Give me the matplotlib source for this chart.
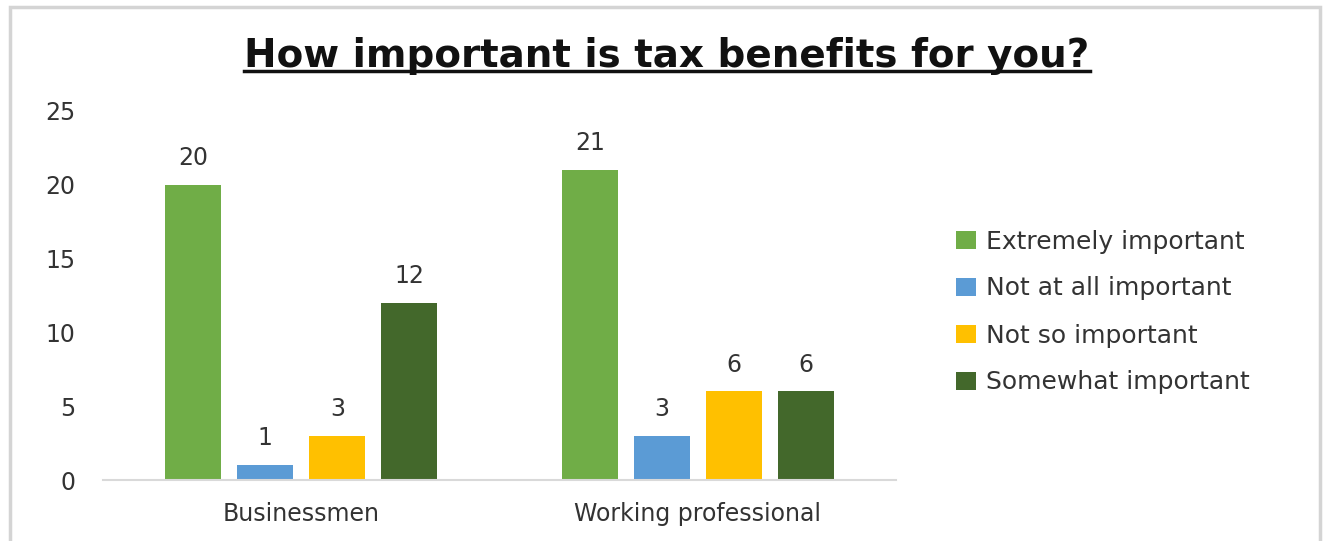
import numpy as np
import matplotlib
matplotlib.use("Agg")
import matplotlib.pyplot as plt
from matplotlib.patches import Rectangle
from matplotlib.lines import Line2D

plt.rcParams['font.family'] = ['DejaVu Sans']

# --- Survey data ---
groups = ["Businessmen", "Working professional"]
answers = ["Extremely important", "Not at all important", "Not so important", "Somewhat important"]
extremely = [20, 21]
not_at_all = [1, 3]
not_so = [3, 6]
somewhat = [12, 6]
series = [extremely, not_at_all, not_so, somewhat]
colors = ["#70ad47", "#5b9bd5", "#ffc000", "#43682b"]

W, H = 1325, 541
fig = plt.figure(figsize=(W / 100, H / 100), dpi=100)

# outer chart border
fig.patches.append(Rectangle((10 / W, -0.1), 1310 / W, 1.1 - 7 / H, transform=fig.transFigure,
                             fill=False, edgecolor="#d4d4d4", linewidth=2.5))

ax = fig.add_axes([103 / W, (H - 480) / H, (896 - 103) / W, (480 - 111) / H])

x = np.arange(len(groups))
bw = 0.141
step = 0.1816
for i, (vals, name, c) in enumerate(zip(series, answers, colors)):
    pos = x + (i - 1.5) * step
    bars = ax.bar(pos, vals, width=bw, color=c, label=name, zorder=2)
    for b, v in zip(bars, vals):
        ax.text(b.get_x() + b.get_width() / 2, v + 1.0, str(v),
                ha="center", va="bottom", fontsize=17, color="#333333")

ax.set_xlim(-0.5, 1.5)
ax.set_ylim(0, 25)
ax.set_yticks(range(0, 26, 5))
ax.set_xticks(x)
ax.set_xticklabels(groups)
ax.tick_params(axis="both", length=0, labelsize=17, colors="#333333")
ax.tick_params(axis="y", pad=20)
ax.tick_params(axis="x", pad=16)
for s in ["top", "right", "left"]:
    ax.spines[s].set_visible(False)
ax.spines["bottom"].set_color("#d9d9d9")
ax.spines["bottom"].set_linewidth(1.5)

leg = fig.legend(loc="center left", bbox_to_anchor=(933 / W, (H - 312) / H), frameon=False,
                 fontsize=18, handlelength=0.8, handleheight=0.75, handletextpad=0.4,
                 labelspacing=0.92, labelcolor="#333333")

title = fig.text(667 / W, (H - 67) / H, "How important is tax benefits for you?",
                 ha="center", va="baseline", fontsize=28, fontweight="bold", color="#111111")

# underline the title just under its baseline
fig.canvas.draw()
bb = title.get_window_extent().transformed(fig.transFigure.inverted())
uy = (H - 71) / H
fig.add_artist(Line2D([bb.x0, bb.x1], [uy, uy], transform=fig.transFigure,
                      color="#111111", linewidth=2.5))

fig.savefig("out.png", dpi=100)
